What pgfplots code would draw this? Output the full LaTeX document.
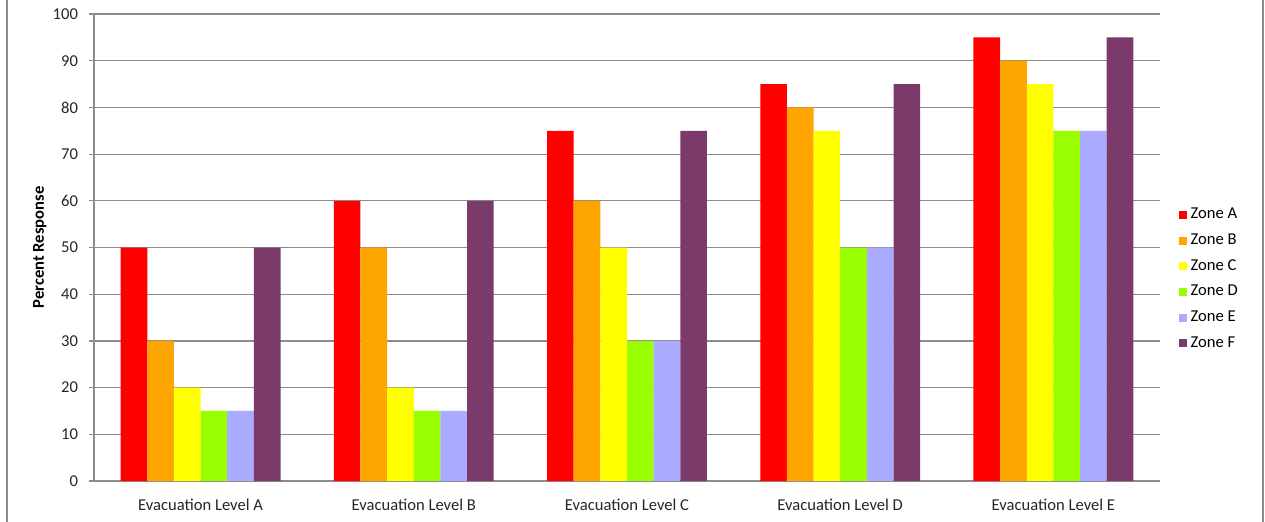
\documentclass[border=0pt]{standalone}
\usepackage{pgfplots}
\pgfplotsset{compat=1.18}
\usepackage{fontspec}
\setmainfont{Carlito}

\definecolor{zoneA}{HTML}{FF0000}
\definecolor{zoneB}{HTML}{FFA500}
\definecolor{zoneC}{HTML}{FFFF00}
\definecolor{zoneD}{HTML}{99FF00}
\definecolor{zoneE}{HTML}{AAAAFF}
\definecolor{zoneF}{HTML}{7A3B6A}
\definecolor{gridgray}{HTML}{8C8C8C}

% Percent response per evacuation level (x = 0..4) for each zone
\pgfplotstableread{
x zA zB zC zD zE zF
0 50 30 20 15 15 50
1 60 50 20 15 15 60
2 75 60 50 30 30 75
3 85 80 75 50 50 85
4 95 90 85 75 75 95
}\responses

\begin{document}
\begin{tikzpicture}
% page frame
\useasboundingbox (-47pt,-20pt) rectangle (585.5pt,240.5pt);
\draw[gridgray, line width=0.9pt] (-43.5pt,-25pt) -- (-43.5pt,245pt);
\draw[gridgray, line width=0.9pt] (584.5pt,-25pt) -- (584.5pt,245pt);
\begin{axis}[
  at={(0,0)}, anchor=south west,
  scale only axis,
  width=533pt, height=233.5pt,
  ybar=0pt, bar width=0.125,
  xmin=-0.5, xmax=4.5,
  ymin=0, ymax=100,
  ytick={0,10,...,100},
  xtick={0,1,2,3,4},
  xticklabels={Evacuation Level A, Evacuation Level B, Evacuation Level C, Evacuation Level D, Evacuation Level E},
  major x tick style={draw=none},
  axis x line*=bottom, axis y line*=left,
  axis line style={gridgray, line width=0.6pt},
  ymajorgrids,
  major grid style={gridgray, line width=0.6pt},
  ytick style={gridgray, line width=0.6pt},
  tick align=outside,
  major tick length=2.5pt,
  /pgf/number format/assume math mode=true,
  tick label style={font=\fontsize{8.3}{9}\selectfont, text=black!85},
  xticklabel style={yshift=-3pt},
  yticklabel style={xshift=-2pt},
  ylabel={\bfseries Percent Response},
  ylabel style={at={(axis description cs:-0.038,0.5)}, anchor=south, font=\fontsize{8.3}{9}\selectfont},
  legend style={at={(axis description cs:1.017,0.432)}, anchor=west, draw=none, fill=none,
    font=\fontsize{8.3}{9}\selectfont, row sep=2.0pt, inner sep=0pt,
    /tikz/every even column/.append style={column sep=0pt}},
  legend cell align=left,
  legend image code/.code={\fill[#1] (0pt,-2pt) rectangle (4pt,2pt);},
  every axis plot/.append style={draw=none},
]
\addplot[fill=zoneA] table[x=x, y=zA] {\responses};
\addplot[fill=zoneB] table[x=x, y=zB] {\responses};
\addplot[fill=zoneC] table[x=x, y=zC] {\responses};
\addplot[fill=zoneD] table[x=x, y=zD] {\responses};
\addplot[fill=zoneE] table[x=x, y=zE] {\responses};
\addplot[fill=zoneF] table[x=x, y=zF] {\responses};
\legend{Zone A, Zone B, Zone C, Zone D, Zone E, Zone F}
\end{axis}
\end{tikzpicture}
\end{document}
